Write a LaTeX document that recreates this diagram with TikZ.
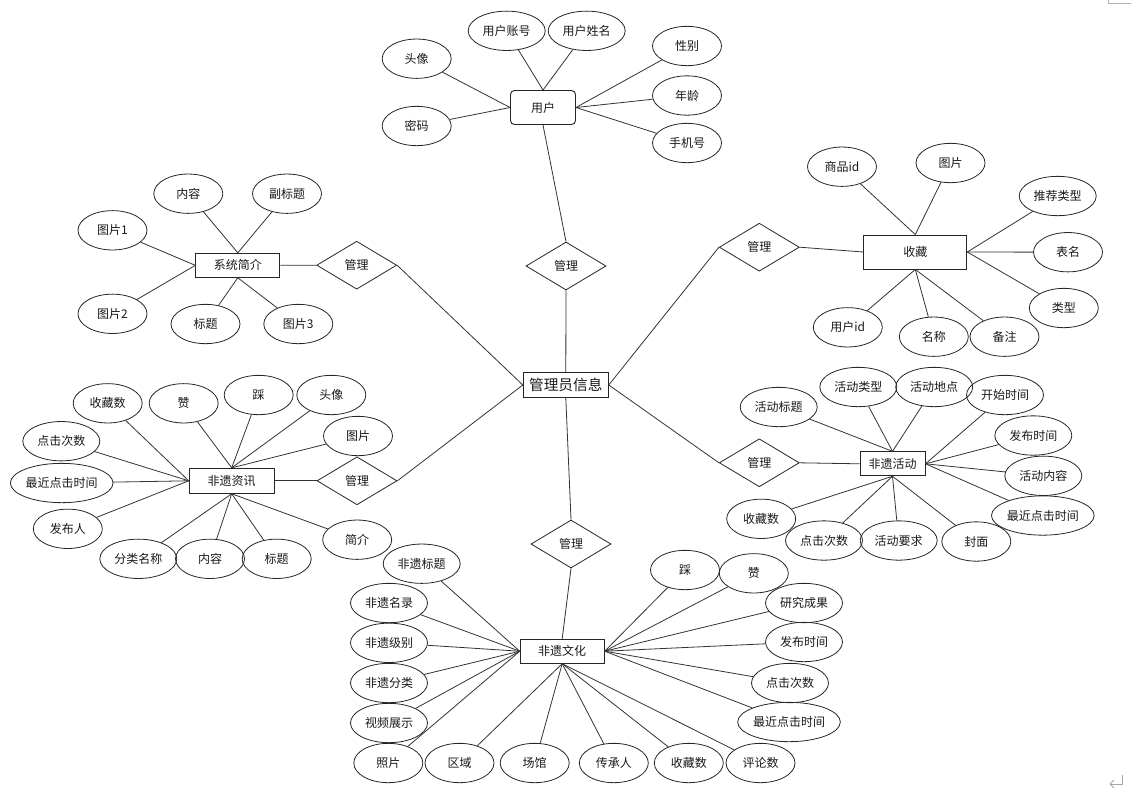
\documentclass[tikz,border=0pt]{standalone}
\usepackage{fontspec}
\newfontfamily\cjk{Noto Sans CJK SC}
\usetikzlibrary{shapes.geometric}
\begin{document}
\begin{tikzpicture}[x=0.75pt,y=-0.75pt,
 every node/.style={font=\cjk\fontsize{9}{11}\selectfont, text=black!90},
 ln/.style={draw=black!80, line width=0.6pt},
 attr/.style={ellipse, draw=black!85, line width=0.6pt, inner sep=0pt, minimum width=51.75pt, minimum height=29.5pt},
 attrm/.style={attr, minimum width=57.75pt},
 attrl/.style={attr, minimum width=77pt},
 ent/.style={rectangle, draw=black!85, line width=0.7pt, inner sep=0pt},
 rel/.style={diamond, draw=black!85, line width=0.6pt, inner sep=0pt, minimum width=60pt, minimum height=36pt}]
\useasboundingbox (0,0) rectangle (1131,797);

% ---------- 用户 ----------
\node[ent, rounded corners=3pt, minimum width=48.75pt, minimum height=25.5pt] (user) at (543,107.5) {用户};
\node[attrm] (u_zh) at (506.7,30.8) {用户账号};
\node[attrm] (u_xm) at (586.7,30.8) {用户姓名};
\node[attr] (u_tx) at (416.7,58.7) {头像};
\node[attr] (u_mm) at (416.7,126) {密码};
\node[attr] (u_xb) at (687,46) {性别};
\node[attr] (u_nl) at (687,95.5) {年龄};
\node[attr] (u_sjh) at (687,143) {手机号};
\node[rel] (r1) at (566,266) {管理};
\foreach \a in {u_tx,u_mm} \draw[ln] (\a) -- (user.west);
\foreach \a in {u_zh,u_xm} \draw[ln] (\a) -- (user.north);
\foreach \a in {u_xb,u_nl,u_sjh} \draw[ln] (\a) -- (user.east);

% ---------- 系统简介 ----------
\node[ent, minimum width=63pt, minimum height=18pt] (sys) at (237.8,265.3) {系统简介};
\node[attr] (s_nr) at (188.3,193.7) {内容};
\node[attr] (s_fbt) at (287,193.7) {副标题};
\node[attr] (s_tp1) at (112.5,230.3) {图片1};
\node[attr] (s_tp2) at (112.5,313.8) {图片2};
\node[attr] (s_bt) at (205.5,324) {标题};
\node[attr] (s_tp3) at (298.3,324) {图片3};
\node[rel] (r2) at (356.7,265.2) {管理};
\foreach \a in {s_nr,s_fbt} \draw[ln] (\a) -- (sys.north);
\foreach \a in {s_tp1,s_tp2} \draw[ln] (\a) -- (sys.west);
\foreach \a in {s_bt,s_tp3} \draw[ln] (\a) -- (sys.south);

% ---------- 管理员信息 ----------
\node[ent, minimum width=63.75pt, minimum height=18.75pt, font=\cjk\fontsize{11}{13}\selectfont] (admin) at (565.8,385) {管理员信息};

% ---------- 收藏 ----------
\node[ent, minimum width=77.25pt, minimum height=25.5pt] (sc) at (915.3,252) {收藏};
\node[rel] (r3) at (759.3,247.2) {管理};
\node[attr] (c_spid) at (842,166.7) {商品id};
\node[attr] (c_tp) at (950.5,163) {图片};
\node[attrm] (c_tjlx) at (1057.7,196) {推荐类型};
\node[attr] (c_bm) at (1068,252.2) {表名};
\node[attr] (c_lx) at (1063.8,308) {类型};
\node[attr] (c_yhid) at (847.8,327.3) {用户id};
\node[attr] (c_mc) at (933.8,336.7) {名称};
\node[attr] (c_bz) at (1004.5,336.7) {备注};
\foreach \a in {c_spid,c_tp} \draw[ln] (\a) -- (sc.north);
\foreach \a in {c_tjlx,c_bm,c_lx} \draw[ln] (\a) -- (sc.east);
\foreach \a in {c_yhid,c_mc,c_bz} \draw[ln] (\a) -- (sc.south);

% ---------- 非遗资讯 ----------
\node[ent, minimum width=63.75pt, minimum height=18.75pt] (zx) at (231.7,480.8) {非遗资讯};
\node[rel] (r4) at (357,480.8) {管理};
\node[attr] (x_scs) at (107.7,403.3) {收藏数};
\node[attr] (x_z) at (183.7,403.3) {赞};
\node[attr] (x_c) at (258.7,395) {踩};
\node[attr] (x_tx) at (331.3,395) {头像};
\node[attr] (x_tp) at (358,436) {图片};
\node[attrm] (x_djcs) at (61.3,441.2) {点击次数};
\node[attrl] (x_zj) at (61.7,483) {最近点击时间};
\node[attr] (x_fbr) at (67.8,528.8) {发布人};
\node[attrm] (x_flmc) at (138.3,558.8) {分类名称};
\node[attr] (x_nr) at (210,558.8) {内容};
\node[attr] (x_bt) at (276.7,558.8) {标题};
\node[attr] (x_jj) at (357.2,539.7) {简介};
\foreach \a in {x_scs,x_djcs,x_zj,x_fbr} \draw[ln] (\a) -- (zx.west);
\foreach \a in {x_z,x_c,x_tx,x_tp} \draw[ln] (\a) -- (zx.north);
\foreach \a in {x_flmc,x_nr,x_bt,x_jj} \draw[ln] (\a) -- (zx.south);

% ---------- 非遗活动 ----------
\node[ent, minimum width=48.75pt, minimum height=18pt] (hd) at (892.5,463.8) {非遗活动};
\node[rel] (r5) at (759.3,462.8) {管理};
\node[attrm] (h_bt) at (778.7,407) {活动标题};
\node[attrm] (h_lx) at (858.3,387) {活动类型};
\node[attrm] (h_dd) at (934.2,387) {活动地点};
\node[attrm] (h_ks) at (1005,395) {开始时间};
\node[attrm] (h_fb) at (1033.3,435.5) {发布时间};
\node[attrm] (h_nr) at (1043.3,475.8) {活动内容};
\node[attrl] (h_zj) at (1042.8,515.5) {最近点击时间};
\node[attr] (h_scs) at (761.2,518.8) {收藏数};
\node[attrm] (h_djcs) at (824,540.5) {点击次数};
\node[attrm] (h_yq) at (898.7,540.5) {活动要求};
\node[attr] (h_fm) at (976.3,541.5) {封面};
\foreach \a in {h_bt,h_lx,h_dd} \draw[ln] (\a) -- (hd.north);
\foreach \a in {h_ks,h_fb,h_nr,h_zj} \draw[ln] (\a) -- (hd.east);
\foreach \a in {h_scs,h_djcs,h_yq,h_fm} \draw[ln] (\a) -- (hd.south);

% ---------- 非遗文化 ----------
\node[ent, minimum width=63pt, minimum height=18pt] (wh) at (562.2,651.2) {非遗文化};
\node[rel] (r6) at (571,544) {管理};
\node[attrm] (w_bt) at (421.7,563.7) {非遗标题};
\node[attrm] (w_ml) at (389,603) {非遗名录};
\node[attrm] (w_jb) at (389,642.8) {非遗级别};
\node[attrm] (w_fl) at (389,683) {非遗分类};
\node[attrm] (w_sp) at (389,723) {视频展示};
\node[attr] (w_zp) at (388.3,763) {照片};
\node[attr] (w_qy) at (459.5,763) {区域};
\node[attr] (w_cg) at (534.7,763) {场馆};
\node[attr] (w_ccr) at (613.8,763) {传承人};
\node[attr] (w_scs) at (688.8,763) {收藏数};
\node[attr] (w_pls) at (760.5,763) {评论数};
\node[attr] (w_c) at (685,570) {踩};
\node[attr] (w_z) at (753.8,573.3) {赞};
\node[attrm] (w_yj) at (804,603) {研究成果};
\node[attrm] (w_fb) at (804,642) {发布时间};
\node[attrm] (w_dj) at (790,683) {点击次数};
\node[attrl] (w_zj) at (789,722) {最近点击时间};
\foreach \a in {w_bt,w_ml,w_jb,w_fl,w_sp,w_zp} \draw[ln] (\a) -- (wh.west);
\foreach \a in {w_qy,w_cg,w_ccr,w_scs,w_pls} \draw[ln] (\a) -- (wh.south);
\foreach \a in {w_c,w_z,w_yj,w_fb,w_dj,w_zj} \draw[ln] (\a) -- (wh.east);

% ---------- relationships ----------
\draw[ln] (user.south) -- (r1.north);
\draw[ln] (r1.south) -- (admin.north);
\draw[ln] (sys.east) -- (r2.west);
\draw[ln] (r2.east) -- (admin.west);
\draw[ln] (r3.east) -- (sc.west);
\draw[ln] (r3.west) -- (admin.east);
\draw[ln] (zx.east) -- (r4.west);
\draw[ln] (r4.east) -- (admin.west);
\draw[ln] (r5.east) -- (hd.west);
\draw[ln] (r5.west) -- (admin.east);
\draw[ln] (admin.south) -- (r6.north);
\draw[ln] (r6.south) -- (wh.north);

% ---------- page marks ----------
\draw[gray!60, line width=0.6pt] (1108,0) -- (1108,3.3) -- (1131,3.3);
\draw[gray!70, line width=0.6pt] (1122,775) -- (1122,784) -- (1110,784);
\draw[gray!70, line width=0.6pt] (1114,780) -- (1110,784) -- (1114,788);
\end{tikzpicture}
\end{document}
